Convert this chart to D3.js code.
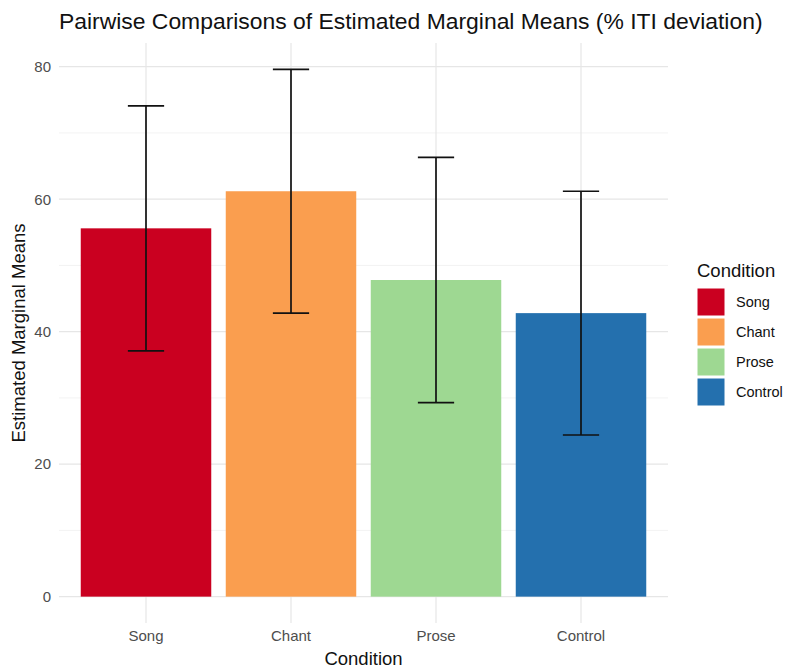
<!DOCTYPE html>
<html>
<head>
<meta charset="utf-8">
<script src="https://cdn.jsdelivr.net/npm/d3@7"></script>
<style>
  html, body { margin: 0; padding: 0; background: #fff; }
  svg { display: block; font-family: "Liberation Sans", Arial, Helvetica, sans-serif; }
</style>
</head>
<body>
<svg id="chart" width="786" height="670"></svg>
<script>
// Estimated marginal means per condition, with 95% CI bounds
const conditions = ["Song", "Chant", "Prose", "Control"];
const emmeans = [55.6, 61.2, 47.8, 42.8];
const lowerCL = [37.1, 42.8, 29.3, 24.4];
const upperCL = [74.1, 79.6, 66.3, 61.2];
const barColors = ["#ca0020", "#fa9e4f", "#9ed892", "#2470ae"];
const yTicks = [0, 20, 40, 60, 80];
const yMinorTicks = [10, 30, 50, 70];

const svg = d3.select("#chart");
const panel = { left: 59, right: 668, top: 43, bottom: 623 };

const x = d3.scaleBand()
  .domain(conditions)
  .range([panel.left, panel.right])
  .paddingInner(0.1)
  .paddingOuter(0.15);

// 5% expansion around [0, max upper CL]
const yMax = d3.max(upperCL);
const y = d3.scaleLinear()
  .domain([-0.05 * yMax, yMax * 1.05])
  .range([panel.bottom, panel.top]);

const color = d3.scaleOrdinal().domain(conditions).range(barColors);

// Gridlines
const grid = svg.append("g");
grid.selectAll("line.minor").data(yMinorTicks).join("line")
  .attr("x1", panel.left).attr("x2", panel.right)
  .attr("y1", d => y(d)).attr("y2", d => y(d))
  .attr("stroke", "#f3f3f3").attr("stroke-width", 1);
grid.selectAll("line.major").data(yTicks).join("line")
  .attr("x1", panel.left).attr("x2", panel.right)
  .attr("y1", d => y(d)).attr("y2", d => y(d))
  .attr("stroke", "#e6e6e6").attr("stroke-width", 1.2);
grid.selectAll("line.vmajor").data(conditions).join("line")
  .attr("x1", d => x(d) + x.bandwidth() / 2).attr("x2", d => x(d) + x.bandwidth() / 2)
  .attr("y1", panel.top).attr("y2", panel.bottom)
  .attr("stroke", "#e6e6e6").attr("stroke-width", 1.2);

// Bars
svg.append("g").selectAll("rect").data(conditions).join("rect")
  .attr("x", d => x(d))
  .attr("width", x.bandwidth())
  .attr("y", (d, i) => y(emmeans[i]))
  .attr("height", (d, i) => y(0) - y(emmeans[i]))
  .attr("fill", d => color(d));

// Error bars
const capHalf = x.step() * 0.125;
const eb = svg.append("g").attr("stroke", "#111").attr("stroke-width", 1.7);
conditions.forEach((c, i) => {
  const cx = x(c) + x.bandwidth() / 2;
  eb.append("line").attr("x1", cx).attr("x2", cx).attr("y1", y(lowerCL[i])).attr("y2", y(upperCL[i]));
  eb.append("line").attr("x1", cx - capHalf).attr("x2", cx + capHalf).attr("y1", y(lowerCL[i])).attr("y2", y(lowerCL[i]));
  eb.append("line").attr("x1", cx - capHalf).attr("x2", cx + capHalf).attr("y1", y(upperCL[i])).attr("y2", y(upperCL[i]));
});

// Axes
const yAxis = svg.append("g")
  .attr("transform", `translate(${panel.left},0)`)
  .call(d3.axisLeft(y).tickValues(yTicks).tickSize(0).tickPadding(8));
yAxis.select(".domain").remove();
yAxis.selectAll("text").attr("fill", "#4d4d4d").style("font-size", "15px");

const xAxis = svg.append("g")
  .attr("transform", `translate(0,${panel.bottom})`)
  .call(d3.axisBottom(x).tickSize(0).tickPadding(7));
xAxis.select(".domain").remove();
xAxis.selectAll("text").attr("fill", "#4d4d4d").style("font-size", "15px");

// Titles
svg.append("text")
  .attr("x", panel.left).attr("y", 29)
  .attr("fill", "#111").style("font-size", "22.9px")
  .text("Pairwise Comparisons of Estimated Marginal Means (% ITI deviation)");

svg.append("text")
  .attr("x", (panel.left + panel.right) / 2).attr("y", 665)
  .attr("text-anchor", "middle").attr("fill", "#111").style("font-size", "18.5px")
  .text("Condition");

svg.append("text")
  .attr("transform", `translate(25,${(panel.top + panel.bottom) / 2}) rotate(-90)`)
  .attr("text-anchor", "middle").attr("fill", "#111").style("font-size", "18.5px")
  .text("Estimated Marginal Means");

// Legend
const legend = svg.append("g").attr("transform", "translate(697,0)");
legend.append("text").attr("x", 0).attr("y", 277)
  .attr("fill", "#111").style("font-size", "18.5px").text("Condition");
const items = legend.selectAll("g.item").data(conditions).join("g")
  .attr("transform", (d, i) => `translate(0,${288 + i * 30})`);
items.append("rect").attr("width", 28).attr("height", 28)
  .attr("fill", d => color(d)).attr("stroke", "#fff").attr("stroke-width", 1);
items.append("text").attr("x", 39).attr("y", 14).attr("dy", "0.35em")
  .attr("fill", "#111").style("font-size", "14.5px").text(d => d);
</script>
</body>
</html>
